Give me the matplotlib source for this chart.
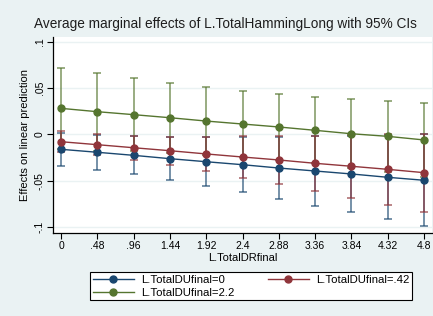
import matplotlib
matplotlib.use('Agg')
import matplotlib.pyplot as plt

plt.rcParams['font.family'] = ['Liberation Sans', 'DejaVu Sans']

x = [0, .48, .96, 1.44, 1.92, 2.4, 2.88, 3.36, 3.84, 4.32, 4.8]
xlabels = ['0', '.48', '.96', '1.44', '1.92', '2.4', '2.88', '3.36', '3.84', '4.32', '4.8']

du0 = [-0.0162, -0.0194, -0.0227, -0.0263, -0.0296, -0.0328, -0.0364, -0.0396, -0.0428, -0.0464, -0.0496]
du0_ci = [0.0176, 0.0188, 0.0205, 0.0233, 0.0265, 0.0300, 0.0337, 0.0374, 0.0413, 0.0453, 0.0496]
du42 = [-0.0080, -0.0112, -0.0145, -0.0177, -0.0212, -0.0245, -0.0277, -0.0313, -0.0345, -0.0378, -0.0414]
du42_ci = [0.0116, 0.0112, 0.0127, 0.0151, 0.0184, 0.0223, 0.0260, 0.0300, 0.0340, 0.0380, 0.0420]
du22 = [0.0280, 0.0244, 0.0212, 0.0179, 0.0143, 0.0111, 0.0079, 0.0043, 0.0006, -0.0022, -0.0061]
du22_ci = [0.0438, 0.0420, 0.0395, 0.0378, 0.0367, 0.0360, 0.0353, 0.0356, 0.0370, 0.0380, 0.0395]

yticks = [-.1, -.05, 0, .05, .1]
yticklabels = ['-.1', '-.05', '0', '.05', '.1']

series = [
    ('L.TotalDUfinal=0', du0, du0_ci, '#1a476f'),
    ('L.TotalDUfinal=2.2', du22, du22_ci, '#55752f'),
    ('L.TotalDUfinal=.42', du42, du42_ci, '#90353b'),
]

bg = '#eaf2f3'
fig = plt.figure(figsize=(4.33, 3.16), dpi=100, facecolor=bg)
ax = fig.add_axes([0.1224, 0.2627, 0.8753, 0.6202])
ax.set_facecolor('white')

handles = []
for label, y, ci, col in series:
    ax.errorbar(x, y, yerr=ci, fmt='none', ecolor=col, elinewidth=1.3,
                capsize=3, capthick=1.3, alpha=0.65, zorder=2)
    h, = ax.plot(x, y, '-o', color=col, lw=1.0, markersize=5, label=label, zorder=3)
    handles.append(h)

ax.set_xlim(-0.106, 4.906)
ax.set_ylim(-0.1065, 0.105)
ax.set_xticks(x)
ax.set_xticklabels(xlabels)
ax.set_yticks(yticks)
ax.set_yticklabels(yticklabels, rotation=90, va='center')
ax.tick_params(labelsize=7.5, length=4, width=0.8, colors='black', pad=2)
ax.grid(axis='y', color=bg, lw=1.0)
ax.set_axisbelow(True)
for s in ['top', 'right']:
    ax.spines[s].set_visible(False)
for s in ['left', 'bottom']:
    ax.spines[s].set_linewidth(0.9)

ax.set_xlabel('L.TotalDRfinal', fontsize=8, labelpad=1)
ax.set_ylabel('Effects on linear prediction', fontsize=8, labelpad=3)
fig.text(0.52, 0.925, 'Average marginal effects of L.TotalHammingLong with 95% CIs',
         ha='center', va='center', fontsize=9.8, color='#1e1e1e')

leg = fig.legend(handles=handles, loc='center',
                 bbox_to_anchor=(0.2079, 0.038, 0.7436, 0.111), mode='expand',
                 ncol=2, fontsize=8.2, fancybox=False, edgecolor='black',
                 framealpha=1, borderpad=0.25, borderaxespad=0, handlelength=3.6,
                 handletextpad=0.6, columnspacing=1.5, labelspacing=0.2)
leg.get_frame().set_linewidth(0.8)

fig.savefig('out.png', dpi=100, facecolor=bg)
